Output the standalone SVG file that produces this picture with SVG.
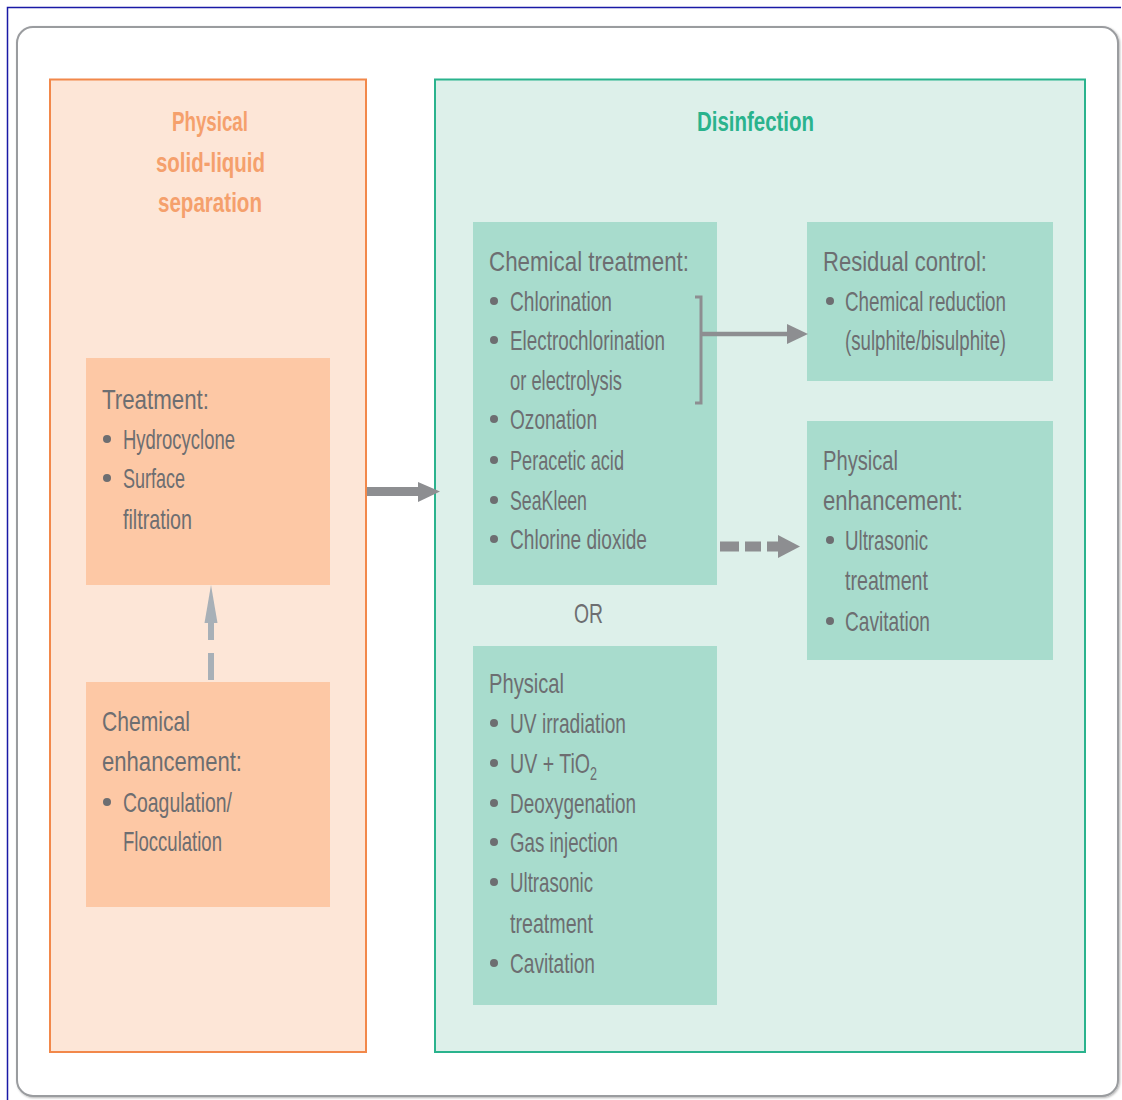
<svg xmlns="http://www.w3.org/2000/svg" width="1122" height="1100" viewBox="0 0 1122 1100">
<defs>
<style>
.t{font-family:"Liberation Sans",Arial,sans-serif;font-size:28px;fill:#6d6e71}
.ttl{font-family:"Liberation Sans",Arial,sans-serif;font-size:28px;font-weight:bold}
.b{fill:#6d6e71}
.ob{fill:#fdc8a5}
.gb{fill:#a8dccd}
</style>
<filter id="sh" x="-5%" y="-5%" width="110%" height="110%">
<feDropShadow dx="1" dy="1" stdDeviation="1.2" flood-color="#000" flood-opacity="0.3"/>
</filter>
</defs>
<rect width="1122" height="1100" fill="#ffffff"/>
<path d="M7.5 1100 V7.5 H1121" fill="none" stroke="#1a1aa6" stroke-width="1.5"/>
<rect x="17" y="27" width="1101" height="1069" rx="16" fill="#ffffff" stroke="#9a9c9f" stroke-width="2" filter="url(#sh)"/>

<g id="panel-physical">
<rect x="50" y="79.5" width="316" height="972.5" fill="#fde6d7" stroke="#f2884a" stroke-width="2"/>
<text class="ttl" fill="#f5a06c" x="172" y="131" textLength="76" lengthAdjust="spacingAndGlyphs">Physical</text>
<text class="ttl" fill="#f5a06c" x="156" y="172" textLength="109" lengthAdjust="spacingAndGlyphs">solid-liquid</text>
<text class="ttl" fill="#f5a06c" x="158" y="212" textLength="104" lengthAdjust="spacingAndGlyphs">separation</text>
</g>

<g id="panel-disinfection">
<rect x="435" y="79.5" width="650" height="972.5" fill="#ddf0ea" stroke="#2ab38d" stroke-width="2"/>
<text class="ttl" fill="#2ab38d" x="697" y="131" textLength="117" lengthAdjust="spacingAndGlyphs">Disinfection</text>
</g>

<g id="treatment">
<rect class="ob" x="86" y="358" width="244" height="227"/>
<text class="t" x="102" y="409" textLength="107" lengthAdjust="spacingAndGlyphs">Treatment:</text>
<circle class="b" cx="107" cy="439" r="4"/>
<text class="t" x="123" y="449" textLength="112" lengthAdjust="spacingAndGlyphs">Hydrocyclone</text>
<circle class="b" cx="107" cy="478" r="4"/>
<text class="t" x="123" y="488" textLength="62" lengthAdjust="spacingAndGlyphs">Surface</text>
<text class="t" x="123" y="529" textLength="69" lengthAdjust="spacingAndGlyphs">filtration</text>
</g>

<g id="chemical-enhancement">
<rect class="ob" x="86" y="682" width="244" height="225"/>
<text class="t" x="102" y="731" textLength="88" lengthAdjust="spacingAndGlyphs">Chemical</text>
<text class="t" x="102" y="771" textLength="140" lengthAdjust="spacingAndGlyphs">enhancement:</text>
<circle class="b" cx="107" cy="802" r="4"/>
<text class="t" x="123" y="812" textLength="109" lengthAdjust="spacingAndGlyphs">Coagulation/</text>
<text class="t" x="123" y="851" textLength="99" lengthAdjust="spacingAndGlyphs">Flocculation</text>
</g>

<g id="chemical-treatment">
<rect class="gb" x="473" y="222" width="244" height="363"/>
<text class="t" x="489" y="271" textLength="200" lengthAdjust="spacingAndGlyphs">Chemical treatment:</text>
<circle class="b" cx="494" cy="301" r="4"/>
<text class="t" x="510" y="311" textLength="102" lengthAdjust="spacingAndGlyphs">Chlorination</text>
<circle class="b" cx="494" cy="340" r="4"/>
<text class="t" x="510" y="350" textLength="155" lengthAdjust="spacingAndGlyphs">Electrochlorination</text>
<text class="t" x="510" y="390" textLength="112" lengthAdjust="spacingAndGlyphs">or electrolysis</text>
<circle class="b" cx="494" cy="419" r="4"/>
<text class="t" x="510" y="429" textLength="87" lengthAdjust="spacingAndGlyphs">Ozonation</text>
<circle class="b" cx="494" cy="460" r="4"/>
<text class="t" x="510" y="470" textLength="114" lengthAdjust="spacingAndGlyphs">Peracetic acid</text>
<circle class="b" cx="494" cy="500" r="4"/>
<text class="t" x="510" y="510" textLength="77" lengthAdjust="spacingAndGlyphs">SeaKleen</text>
<circle class="b" cx="494" cy="539" r="4"/>
<text class="t" x="510" y="549" textLength="137" lengthAdjust="spacingAndGlyphs">Chlorine dioxide</text>
</g>

<g id="or-label">
<text class="t" x="574" y="623" textLength="29" lengthAdjust="spacingAndGlyphs">OR</text>
</g>

<g id="physical-disinfection">
<rect class="gb" x="473" y="646" width="244" height="359"/>
<text class="t" x="489" y="693" textLength="75" lengthAdjust="spacingAndGlyphs">Physical</text>
<circle class="b" cx="494" cy="723" r="4"/>
<text class="t" x="510" y="733" textLength="116" lengthAdjust="spacingAndGlyphs">UV irradiation</text>
<circle class="b" cx="494" cy="763" r="4"/>
<text class="t" x="510" y="773" textLength="87" lengthAdjust="spacingAndGlyphs">UV + TiO<tspan font-size="18" dy="7">2</tspan></text>
<circle class="b" cx="494" cy="803" r="4"/>
<text class="t" x="510" y="813" textLength="126" lengthAdjust="spacingAndGlyphs">Deoxygenation</text>
<circle class="b" cx="494" cy="842" r="4"/>
<text class="t" x="510" y="852" textLength="108" lengthAdjust="spacingAndGlyphs">Gas injection</text>
<circle class="b" cx="494" cy="882" r="4"/>
<text class="t" x="510" y="892" textLength="83" lengthAdjust="spacingAndGlyphs">Ultrasonic</text>
<text class="t" x="510" y="933" textLength="83" lengthAdjust="spacingAndGlyphs">treatment</text>
<circle class="b" cx="494" cy="963" r="4"/>
<text class="t" x="510" y="973" textLength="85" lengthAdjust="spacingAndGlyphs">Cavitation</text>
</g>

<g id="residual-control">
<rect class="gb" x="807" y="222" width="246" height="159"/>
<text class="t" x="823" y="271" textLength="164" lengthAdjust="spacingAndGlyphs">Residual control:</text>
<circle class="b" cx="830" cy="301" r="4"/>
<text class="t" x="845" y="311" textLength="161" lengthAdjust="spacingAndGlyphs">Chemical reduction</text>
<text class="t" x="845" y="350" textLength="161" lengthAdjust="spacingAndGlyphs">(sulphite/bisulphite)</text>
</g>

<g id="physical-enhancement">
<rect class="gb" x="807" y="421" width="246" height="239"/>
<text class="t" x="823" y="470" textLength="75" lengthAdjust="spacingAndGlyphs">Physical</text>
<text class="t" x="823" y="510" textLength="140" lengthAdjust="spacingAndGlyphs">enhancement:</text>
<circle class="b" cx="830" cy="540" r="4"/>
<text class="t" x="845" y="550" textLength="83" lengthAdjust="spacingAndGlyphs">Ultrasonic</text>
<text class="t" x="845" y="590" textLength="83" lengthAdjust="spacingAndGlyphs">treatment</text>
<circle class="b" cx="830" cy="621" r="4"/>
<text class="t" x="845" y="631" textLength="85" lengthAdjust="spacingAndGlyphs">Cavitation</text>
</g>

<g id="connectors">
<line x1="367" y1="491.5" x2="420" y2="491.5" stroke="#8d8e91" stroke-width="9"/>
<polygon points="418,482 440,491.5 418,502" fill="#8d8e91"/>
<line x1="211" y1="680" x2="211" y2="653" stroke="#a8b0b7" stroke-width="6"/>
<line x1="211" y1="640" x2="211" y2="620" stroke="#a8b0b7" stroke-width="6"/>
<polygon points="204.5,623 211,585 217.5,623" fill="#a8b0b7"/>
<polyline points="695,297 701,297 701,403 695,403" fill="none" stroke="#8d8e91" stroke-width="3"/>
<line x1="701" y1="334" x2="790" y2="334" stroke="#8d8e91" stroke-width="4.5"/>
<polygon points="787,324 808,334 787,344" fill="#8d8e91"/>
<line x1="720" y1="546.5" x2="739" y2="546.5" stroke="#8d8e91" stroke-width="10"/>
<line x1="745" y1="546.5" x2="761" y2="546.5" stroke="#8d8e91" stroke-width="10"/>
<line x1="767" y1="546.5" x2="781" y2="546.5" stroke="#8d8e91" stroke-width="10"/>
<polygon points="778,535 800,546.5 778,558" fill="#8d8e91"/>
</g>
</svg>
